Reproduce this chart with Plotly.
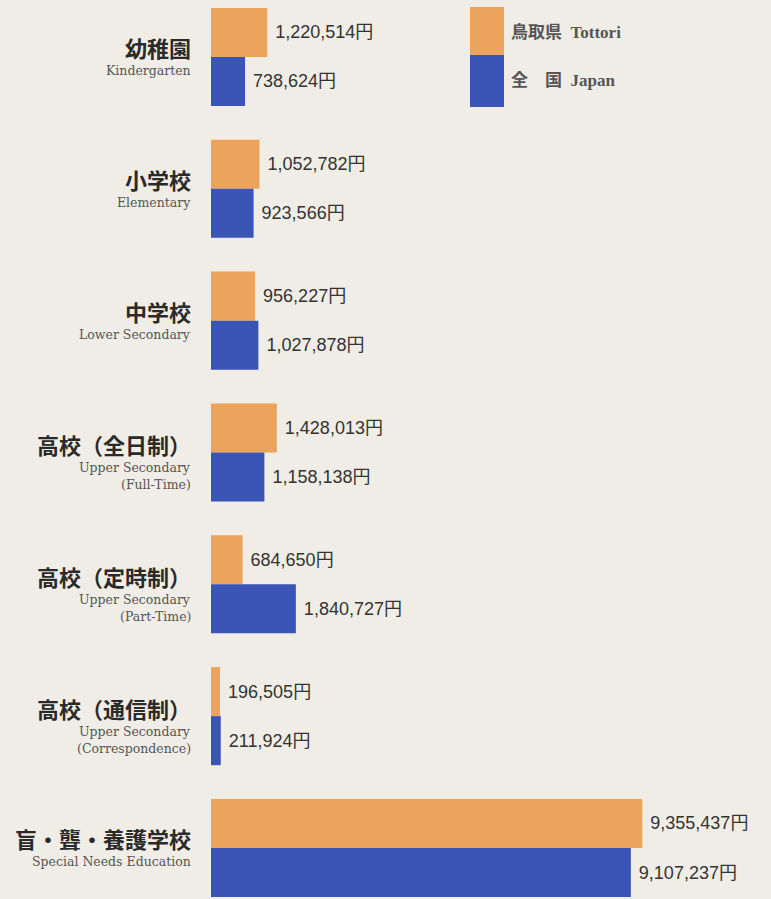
import plotly.graph_objects as go

categories = ["幼稚園", "小学校", "中学校", "高校（全日制）", "高校（定時制）", "高校（通信制）", "盲・聾・養護学校"]
english_lines = [
    ["Kindergarten"],
    ["Elementary"],
    ["Lower Secondary"],
    ["Upper Secondary", "(Full-Time)"],
    ["Upper Secondary", "(Part-Time)"],
    ["Upper Secondary", "(Correspondence)"],
    ["Special Needs Education"],
]
tottori = [1220514, 1052782, 956227, 1428013, 684650, 196505, 9355437]
japan = [738624, 923566, 1027878, 1158138, 1840727, 211924, 9107237]
series_names = ["鳥取県\u2002Tottori", "全\u3000国\u2002Japan"]

ORANGE = "#eca35b"
BLUE = "#3b55b6"
BG = "#efede5"
W, H = 771, 899
L = 211

fig = go.Figure()
for vals, col, name in [(tottori, ORANGE, series_names[0]), (japan, BLUE, series_names[1])]:
    fig.add_trace(go.Bar(
        y=categories, x=vals, orientation="h", name=name,
        marker=dict(color=col, line=dict(width=0)),
        texttemplate="\u00a0%{x:,}円", textposition="outside", cliponaxis=False,
        textfont=dict(family="Liberation Sans, Noto Sans CJK JP", size=18, color="#333333"),
        showlegend=False, hoverinfo="skip",
    ))

annotations = []
for cat, en in zip(categories, english_lines):
    if len(en) == 1:
        jp_shift, en_shifts = 10, [-14]
    else:
        jp_shift, en_shifts = 8, [-15, -32]
    annotations.append(dict(
        x=0, xref="paper", y=cat, yref="y", xanchor="right", yanchor="middle",
        xshift=-18, yshift=jp_shift, showarrow=False,
        text="<b>" + cat + "</b>",
        font=dict(family="Noto Sans CJK JP", size=22, color="#2a2a2a"),
    ))
    for line, s in zip(en, en_shifts):
        annotations.append(dict(
            x=0, xref="paper", y=cat, yref="y", xanchor="right", yanchor="middle",
            xshift=-18, yshift=s, showarrow=False, text=line,
            font=dict(family="DejaVu Serif", size=12.5, color="#555555"),
        ))

def px_x(p):
    return (p - L) / (W - L)

def px_y(p):
    return 1 - p / H

shapes = [
    dict(type="rect", xref="paper", yref="paper", x0=px_x(470), x1=px_x(504), y0=px_y(55), y1=px_y(7),
         fillcolor=ORANGE, line=dict(width=0)),
    dict(type="rect", xref="paper", yref="paper", x0=px_x(470), x1=px_x(504), y0=px_y(107), y1=px_y(55),
         fillcolor=BLUE, line=dict(width=0)),
]
for name, py in zip(series_names, [33, 81]):
    annotations.append(dict(
        x=px_x(509), xref="paper", y=px_y(py), yref="paper", xanchor="left", yanchor="middle",
        showarrow=False, text="<b>" + name + "</b>",
        font=dict(family="Liberation Serif, Noto Sans CJK JP", size=17, color="#555555"),
    ))

fig.update_layout(
    width=W, height=H,
    margin=dict(l=L, r=0, t=0, b=0),
    paper_bgcolor=BG, plot_bgcolor=BG,
    barmode="group", bargap=0.256, bargroupgap=0,
    xaxis=dict(range=[0, (W - L) / 46.1e-6], visible=False),
    yaxis=dict(range=[6.387, -0.432], visible=False, type="category"),
    annotations=annotations, shapes=shapes,
)

fig.write_html(
    "out.html",
    config={"displayModeBar": False},
    post_script="document.body.style.margin='0';document.body.style.overflow='hidden';",
)
